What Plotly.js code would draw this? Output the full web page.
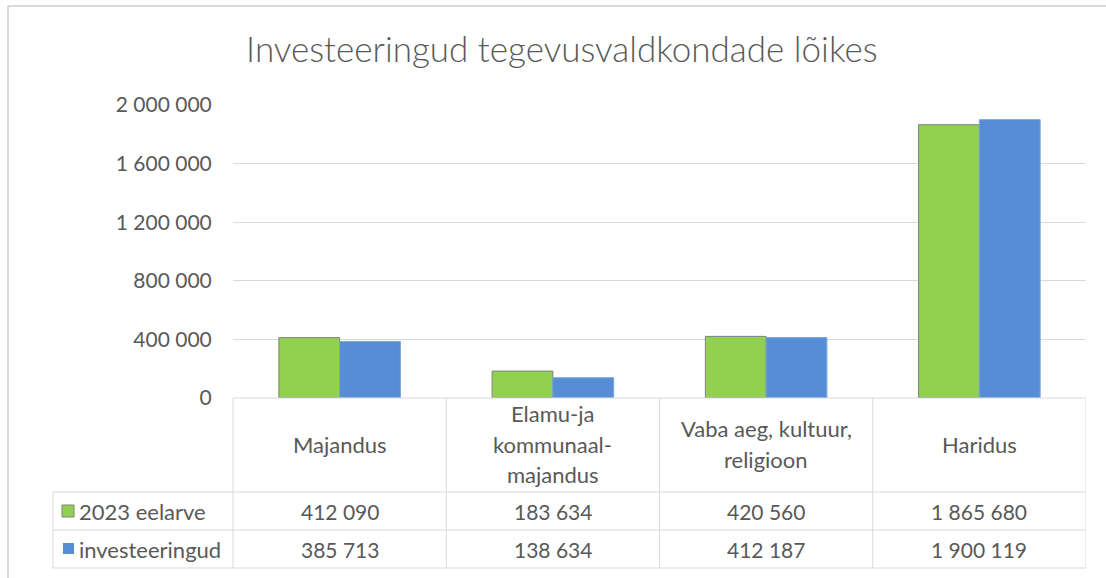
<!DOCTYPE html>
<html>
<head>
<meta charset="utf-8">
<script src="https://cdn.plot.ly/plotly-3.0.1.min.js"></script>
<style>html,body{margin:0;padding:0;background:#fff;}#chart{width:1106px;height:578px;}</style>
</head>
<body>
<div id="chart"></div>
<script>
const categories = ["Majandus", "Elamu-ja\nkommunaal-\nmajandus", "Vaba aeg, kultuur,\nreligioon", "Haridus"];
const seriesNames = ["2023 eelarve", "investeeringud"];
const eelarve = [412090, 183634, 420560, 1865680];
const investeeringud = [385713, 138634, 412187, 1900119];
const tickVals = [0, 400000, 800000, 1200000, 1600000, 2000000];
const tickText = ["0", "400 000", "800 000", "1 200 000", "1 600 000", "2 000 000"];
const titleText = "Investeeringud tegevusvaldkondade lõikes";

const W = 1106, H = 578;
const mL = 233, mR = 20, mT = 105, mB = 180;
const plotW = W - mL - mR, plotH = H - mT - mB;
const px = x => (x - mL) / plotW;       // pixel x -> paper
const py = y => (H - mB - y) / plotH;    // pixel y -> paper

const fmt = v => String(v).replace(/\B(?=(\d{3})+(?!\d))/g, " ");
const FONT = "Lato, 'Open Sans', sans-serif";
const TXT = "#595959";
const LINE = "#d9d9d9";
const colors = ["#92d050", "#558ed5"];
const outlines = ["#808080", "#7aa6dd"];
const NUM_SIZE = 21, WORD_SIZE = 22;

const xIdx = categories.map((_, i) => i);

const traces = [eelarve, investeeringud].map((vals, s) => ({
  type: "bar",
  name: seriesNames[s],
  x: xIdx,
  y: vals,
  marker: {color: colors[s], line: {color: outlines[s], width: 1}},
  hoverinfo: "skip"
}));

const shapes = [];
const annotations = [];

// chart outer border (top and left)
shapes.push({type: "line", xref: "paper", yref: "paper", x0: px(8), x1: px(1106), y0: py(6), y1: py(6), line: {color: LINE, width: 2}});
shapes.push({type: "line", xref: "paper", yref: "paper", x0: px(8), x1: px(8), y0: py(6), y1: py(578), line: {color: LINE, width: 2}});

// table horizontal lines
const rowTop = 492, rowMid = 530, rowBot = 568, tblLeft = 53, tblRight = 1086;
shapes.push({type: "line", xref: "paper", yref: "paper", x0: 0, x1: px(tblRight), y0: 0, y1: 0, line: {color: LINE, width: 1}});
[rowTop, rowMid, rowBot].forEach(y => shapes.push({type: "line", xref: "paper", yref: "paper", x0: px(tblLeft), x1: px(tblRight), y0: py(y), y1: py(y), line: {color: LINE, width: 1}}));
// table verticals
shapes.push({type: "line", xref: "paper", yref: "paper", x0: px(tblLeft), x1: px(tblLeft), y0: py(rowTop), y1: py(rowBot), line: {color: LINE, width: 1}});
shapes.push({type: "line", xref: "paper", yref: "paper", x0: 0, x1: 0, y0: 0, y1: py(rowBot), line: {color: LINE, width: 1}});
for (let i = 0; i < categories.length; i++) {
  shapes.push({type: "line", xref: "x", yref: "paper", x0: i + 0.5, x1: i + 0.5, y0: 0, y1: py(rowBot), line: {color: LINE, width: 1}});
}

// legend keys
shapes.push({type: "rect", xref: "paper", yref: "paper", x0: px(62), x1: px(74), y0: py(505), y1: py(517), fillcolor: colors[0], line: {color: outlines[0], width: 1}});
shapes.push({type: "rect", xref: "paper", yref: "paper", x0: px(63), x1: px(74), y0: py(543), y1: py(554), fillcolor: colors[1], line: {color: colors[1], width: 0}});

// row labels
const rowCenters = [511, 549];
seriesNames.forEach((n, s) => annotations.push({xref: "paper", yref: "paper", x: px(77), y: py(rowCenters[s]), xanchor: "left", yanchor: "middle", text: n, showarrow: false, font: {family: FONT, size: WORD_SIZE, color: TXT}}));

// values
[eelarve, investeeringud].forEach((vals, s) => vals.forEach((v, i) => annotations.push({xref: "x", yref: "paper", x: i, y: py(rowCenters[s]), xanchor: "center", yanchor: "middle", text: fmt(v), showarrow: false, font: {family: FONT, size: NUM_SIZE, color: TXT}})));

// header category names, line by line
const headCenter = 444, lineH = 30.5;
categories.forEach((c, i) => {
  const lines = c.split("\n");
  lines.forEach((ln, k) => {
    const yc = headCenter + (k - (lines.length - 1) / 2) * lineH;
    annotations.push({xref: "x", yref: "paper", x: i, y: py(yc), xanchor: "center", yanchor: "middle", text: ln, showarrow: false, font: {family: FONT, size: WORD_SIZE, color: TXT}});
  });
});

const layout = {
  width: W, height: H,
  margin: {l: mL, r: mR, t: mT, b: mB, pad: 0},
  paper_bgcolor: "#ffffff", plot_bgcolor: "#ffffff",
  title: {text: titleText, x: 0.508, xanchor: "center", y: 1 - 50 / H, yanchor: "middle", font: {family: FONT, size: 35, color: TXT, weight: 300}},
  showlegend: false,
  barmode: "group", bargap: 0.43, bargroupgap: 0,
  xaxis: {range: [-0.5, categories.length - 0.5], showticklabels: false, showgrid: false, zeroline: false, showline: false, ticks: "", fixedrange: true},
  yaxis: {range: [0, 2000000], tickvals: tickVals, ticktext: tickText, showgrid: true, gridcolor: LINE, gridwidth: 1, zeroline: false, showline: false,
          ticks: "outside", ticklen: 16, tickcolor: "rgba(0,0,0,0)", tickfont: {family: FONT, size: NUM_SIZE, color: TXT}, fixedrange: true},
  shapes: shapes,
  annotations: annotations
};

Plotly.newPlot("chart", traces, layout, {displayModeBar: false, staticPlot: true});
</script>
</body>
</html>
